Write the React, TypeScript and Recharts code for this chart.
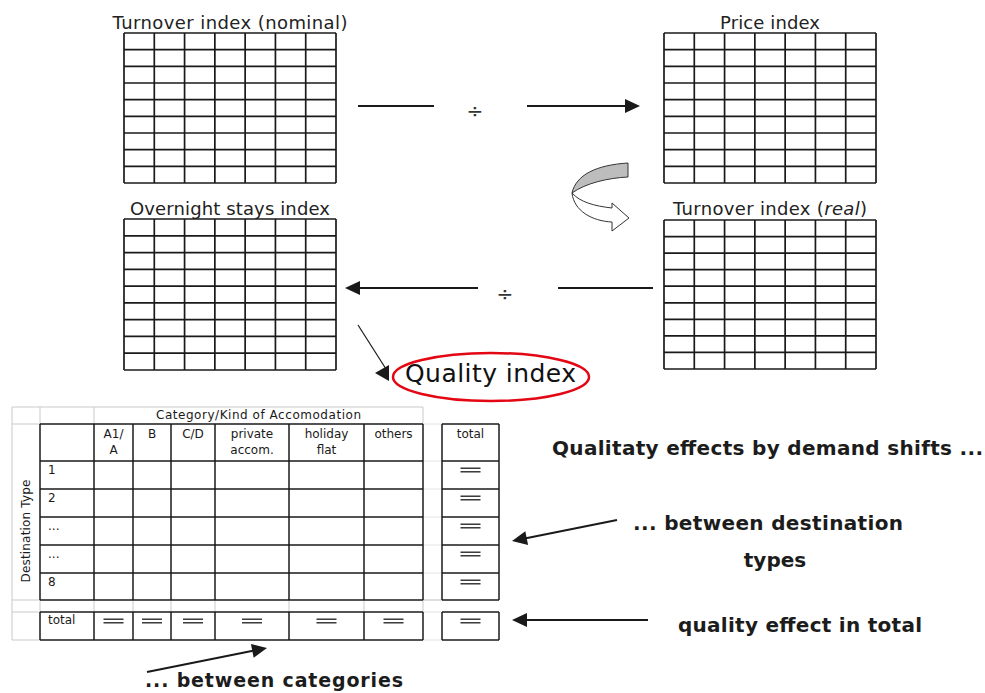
import { ComposedChart, XAxis, YAxis, ReferenceLine, ReferenceDot } from "recharts";

// ---- texts / values of the diagram ----
const indexTitles = [
  ["Turnover index (nominal)"],
  ["Price index"],
  ["Overnight stays index"],
  ["Turnover index (", "real", ")"],
];
const divideSign = "÷";
const qualityLabel = "Quality index";
const categoryHeader = "Category/Kind of Accomodation";
const categories = [["A1/", "A"], ["B"], ["C/D"], ["private", "accom."], ["holiday", "flat"], ["others"]];
const destinationTypes = ["1", "2", "...", "...", "8"];
const totalLabel = "total";
const destinationAxis = "Destination Type";
const effectsHeading = "Qualitaty effects by demand shifts ...";
const effectNotes = ["... between destination", "types", "quality effect in total", "... between categories"];

// ---- layout ----
const W = 985;
const H = 693;
const GRID_COLS = 7;
const GRID_ROWS = 9;
const gridBoxes = [
  { x0: 124, x1: 336, y0: 33, y1: 183, tx: 230, ty: 29, tw: 235 },
  { x0: 664, x1: 876, y0: 33, y1: 183, tx: 770, ty: 29, tw: 100 },
  { x0: 124, x1: 336, y0: 219, y1: 370, tx: 230, ty: 215, tw: 200 },
  { x0: 664, x1: 876, y0: 220, y1: 369, tx: 770, ty: 215, tw: 194 },
];
const colEdges = [40, 94, 133, 171, 215, 289, 364, 423];
const rowEdges = [424, 461, 489, 517, 545, 573, 600];
const totalRowY = [612, 640];
const totalColX = [442, 499];

const INK = "#1a1a1a";
const GRAY = "#c9c9c9";
const FONT = "DejaVu Sans";

const seg = (key: string, x1: number, y1: number, x2: number, y2: number, stroke = INK, w = 1.6) => (
  <ReferenceLine
    key={key}
    segment={[{ x: x1, y: y1 }, { x: x2, y: y2 }]}
    stroke={stroke}
    strokeWidth={w}
    ifOverflow="visible"
  />
);

const mark = (key: string, x: number, y: number, draw: (cx: number, cy: number) => any) => (
  <ReferenceDot key={key} x={x} y={y} r={0} ifOverflow="visible" shape={(p: any) => draw(p.cx, p.cy)} />
);

const label = (key: string, x: number, y: number, content: any, opts: any = {}) =>
  mark(key, x, y, (cx, cy) => (
    <text
      x={cx}
      y={cy}
      fontFamily={FONT}
      fill={opts.fill ?? "#1a1a1a"}
      fontSize={opts.size ?? 12}
      fontWeight={opts.weight ?? "normal"}
      textAnchor={opts.anchor ?? "middle"}
      textLength={opts.len}
      lengthAdjust="spacing"
      transform={opts.rotate ? `rotate(${opts.rotate}, ${cx}, ${cy})` : undefined}
    >
      {content}
    </text>
  ));

const headPath = (tip: number[], from: number[], len = 14, half = 6) => {
  const dx = from[0] - tip[0];
  const dy = from[1] - tip[1];
  const d = Math.hypot(dx, dy);
  const ux = dx / d;
  const uy = dy / d;
  const bx = ux * len;
  const by = uy * len;
  const px = -uy * half;
  const py = ux * half;
  return `M0,0 L${bx + px},${by + py} L${bx - px},${by - py} Z`;
};

const arrow = (key: string, from: number[], tip: number[], w = 2, len = 14, half = 6) => {
  const dx = from[0] - tip[0];
  const dy = from[1] - tip[1];
  const d = Math.hypot(dx, dy);
  const end = [tip[0] + (dx / d) * (len - 2), tip[1] + (dy / d) * (len - 2)];
  return [
    seg(key + "-l", from[0], from[1], end[0], end[1], INK, w),
    mark(key + "-h", tip[0], tip[1], (cx, cy) => (
      <path transform={`translate(${cx},${cy})`} d={headPath(tip, from, len, half)} fill={INK} />
    )),
  ];
};

function indexGrids() {
  const out: any[] = [];
  gridBoxes.forEach((b, g) => {
    for (let i = 0; i <= GRID_COLS; i++) {
      const x = b.x0 + ((b.x1 - b.x0) * i) / GRID_COLS;
      out.push(seg(`g${g}v${i}`, x, b.y0, x, b.y1, INK, 1.7));
    }
    for (let j = 0; j <= GRID_ROWS; j++) {
      const y = b.y0 + ((b.y1 - b.y0) * j) / GRID_ROWS;
      out.push(seg(`g${g}h${j}`, b.x0, y, b.x1, y, INK, 1.7));
    }
    const parts = indexTitles[g];
    out.push(
      label(
        `t${g}`,
        b.tx,
        b.ty,
        parts.map((s, k) => (
          <tspan key={k} fontStyle={k % 2 === 1 ? "italic" : "normal"}>
            {s}
          </tspan>
        )),
        { size: 18, len: b.tw, fill: "#222" }
      )
    );
  });
  return out;
}

const equals = (key: string, cx: number, cy: number) => [
  seg(key + "a", cx - 10, cy - 1.8, cx + 10, cy - 1.8, INK, 1.3),
  seg(key + "b", cx - 10, cy + 1.8, cx + 10, cy + 1.8, INK, 1.3),
];

function table() {
  const out: any[] = [];
  const L = colEdges[0];
  const R = colEdges[colEdges.length - 1];
  const B = rowEdges[rowEdges.length - 1];
  // light frame
  out.push(seg("f1", 12, 407, R, 407, GRAY, 1));
  out.push(seg("f2", 12, 407, 12, 640, GRAY, 1));
  out.push(seg("f3", 12, 640, L, 640, GRAY, 1));
  out.push(seg("f4", R, 407, R, 424, GRAY, 1));
  out.push(seg("f5", L, 407, L, 424, GRAY, 1));
  out.push(seg("f6", colEdges[1], 407, colEdges[1], 424, GRAY, 1));
  out.push(seg("f7", 12, 424, L, 424, GRAY, 1));
  out.push(seg("f8", 12, B, L, B, GRAY, 1));
  out.push(seg("f9", 12, totalRowY[0], L, totalRowY[0], GRAY, 1));
  colEdges.forEach((x, i) => out.push(seg(`fg${i}`, x, B, x, totalRowY[0], GRAY, 1)));
  [...rowEdges, ...totalRowY].forEach((y, i) => out.push(seg(`fr${i}`, R, y, totalColX[0], y, "#e2e2e2", 1)));
  out.push(seg("fgap", R, B, totalColX[0], B, GRAY, 1));
  // main block
  colEdges.forEach((x, i) => {
    out.push(seg(`cv${i}`, x, rowEdges[0], x, B, INK, 1.5));
    out.push(seg(`tv${i}`, x, totalRowY[0], x, totalRowY[1], INK, 1.5));
  });
  rowEdges.forEach((y, i) => out.push(seg(`rh${i}`, L, y, R, y, INK, 1.5)));
  totalRowY.forEach((y, i) => out.push(seg(`trh${i}`, L, y, R, y, INK, 1.5)));
  // total column
  totalColX.forEach((x, i) => {
    out.push(seg(`kv${i}`, x, rowEdges[0], x, B, INK, 1.5));
    out.push(seg(`kvt${i}`, x, totalRowY[0], x, totalRowY[1], INK, 1.5));
  });
  [...rowEdges, ...totalRowY].forEach((y, i) => out.push(seg(`kh${i}`, totalColX[0], y, totalColX[1], y, INK, 1.5)));

  const tcx = (totalColX[0] + totalColX[1]) / 2;
  // headings
  out.push(label("cat", (colEdges[1] + R) / 2, 419, categoryHeader, { size: 12, len: 205 }));
  categories.forEach((lines, i) => {
    const cx = (colEdges[i + 1] + colEdges[i + 2]) / 2;
    lines.forEach((s, k) => out.push(label(`ch${i}-${k}`, cx, 438 + k * 16, s, { size: 12 })));
  });
  out.push(label("tch", tcx, 438, totalLabel, { size: 12 }));
  out.push(label("dax", 30, 531, destinationAxis, { size: 12, rotate: -90, len: 103 }));
  // rows
  destinationTypes.forEach((s, i) => {
    out.push(label(`rl${i}`, 48, rowEdges[i + 1] + 13, s, { size: 12, anchor: "start" }));
    out.push(...equals(`re${i}`, tcx, rowEdges[i + 1] + 9));
  });
  out.push(label("trl", 48, 624, totalLabel, { size: 12, anchor: "start" }));
  for (let i = 1; i < colEdges.length - 1; i++) {
    out.push(...equals(`te${i}`, (colEdges[i] + colEdges[i + 1]) / 2, totalRowY[0] + 9));
  }
  out.push(...equals("tet", tcx, totalRowY[0] + 9));
  return out;
}

function connectors() {
  const out: any[] = [];
  // top: nominal ÷ price -> real
  out.push(seg("a1", 358, 106, 434, 106, INK, 2));
  out.push(label("d1", 475, 118, divideSign, { size: 20, fill: "#333" }));
  out.push(...arrow("a2", [527, 106], [640, 106], 2, 15, 7));
  // middle: real ÷ overnight -> quality
  out.push(seg("b1", 558, 288, 653, 288, INK, 2));
  out.push(label("d2", 505, 301, divideSign, { size: 20, fill: "#333" }));
  out.push(...arrow("b2", [478, 288], [345, 288], 2, 15, 7));
  // diagonal into quality index
  out.push(seg("c1", 358, 325, 386, 369, INK, 1.2));
  out.push(
    mark("c2", 375, 373, (cx, cy) => (
      <path transform={`translate(${cx},${cy})`} d="M0,0 L14,-8 L14,8 Z" fill={INK} />
    ))
  );
  // curved arrow
  out.push(
    mark("cv", 572, 193, (cx, cy) => (
      <g transform={`translate(${cx},${cy})`} stroke="#333" strokeWidth={1}>
        <path d="M56,-30 L56,-16 C36,-15 14,-10 0,0 C4,-18 24,-28 56,-30 Z" fill="#bdbdbd" />
        <path d="M0,0 C8,9 22,13 40,15 L40,10 L57,25 L40,38 L40,29 C20,28 2,18 0,0 Z" fill="#fff" />
      </g>
    ))
  );
  // quality index
  out.push(
    mark("qe", 491, 377, (cx, cy) => (
      <ellipse cx={cx} cy={cy} rx={98} ry={24} fill="none" stroke="#e30613" strokeWidth={2.5} />
    ))
  );
  out.push(label("ql", 490.5, 382, qualityLabel, { size: 25, len: 171, fill: "#111" }));
  // annotations on the right
  out.push(label("eh", 552, 455, effectsHeading, { size: 20, weight: "bold", anchor: "start", len: 431, fill: "#1c1c1c" }));
  out.push(label("en0", 633, 530, effectNotes[0], { size: 20, weight: "bold", anchor: "start", len: 270, fill: "#1c1c1c" }));
  out.push(label("en1", 775, 567, effectNotes[1], { size: 20, weight: "bold", fill: "#1c1c1c" }));
  out.push(label("en2", 678, 632, effectNotes[2], { size: 20, weight: "bold", anchor: "start", len: 244, fill: "#1c1c1c" }));
  out.push(label("en3", 145, 687, effectNotes[3], { size: 19, weight: "bold", anchor: "start", len: 258, fill: "#1c1c1c" }));
  out.push(...arrow("e1", [617, 520], [512, 541], 2, 15, 7));
  out.push(...arrow("e2", [648, 620], [512, 620], 2, 15, 7));
  out.push(...arrow("e3", [147, 672], [267, 648], 2, 15, 7));
  return out;
}

export default function App() {
  return (
    <div style={{ position: "absolute", left: 0, top: 0, width: W, height: H, background: "#fff" }}>
      <ComposedChart width={W} height={H} data={[]} margin={{ top: 0, right: 0, bottom: 0, left: 0 }}>
        <XAxis type="number" dataKey="x" domain={[0, W]} allowDataOverflow hide />
        <YAxis type="number" dataKey="y" domain={[0, H]} reversed allowDataOverflow hide />
        {indexGrids()}
        {table()}
        {connectors()}
      </ComposedChart>
    </div>
  );
}
